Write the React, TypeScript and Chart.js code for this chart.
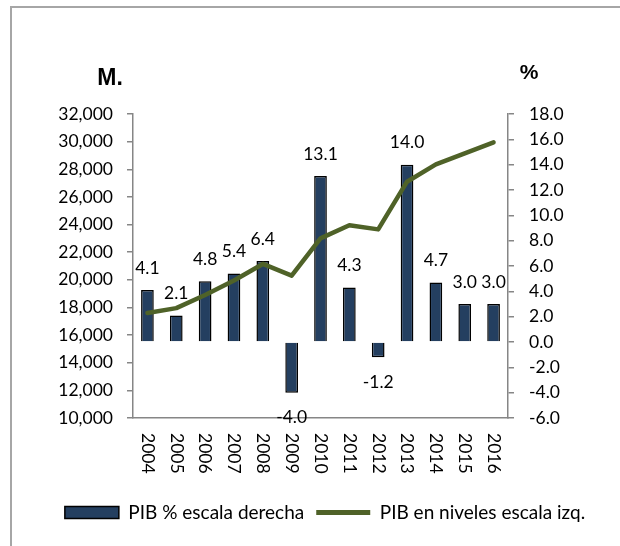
import React, { useEffect, useRef } from 'react';
import { Chart, registerables } from 'chart.js';

Chart.register(...registerables);

const years = ['2004', '2005', '2006', '2007', '2008', '2009', '2010', '2011', '2012', '2013', '2014', '2015', '2016'];
const pibGrowth = [4.1, 2.1, 4.8, 5.4, 6.4, -4.0, 13.1, 4.3, -1.2, 14.0, 4.7, 3.0, 3.0];
const pibLevels = [17600, 17950, 18900, 19950, 21150, 20300, 23000, 23950, 23650, 27100, 28350, 29150, 29950];
const leftAxis = { min: 10000, max: 32000, step: 2000 };
const rightAxis = { min: -6, max: 18, step: 2 };
const seriesNames = ['PIB % escala derecha', 'PIB en niveles escala izq.'];
const leftUnit = 'M.';
const rightUnit = '%';

const FONT = 'Lato, "Open Sans", sans-serif';
const BOLD_FONT = '"Liberation Sans", Arial, sans-serif';
const BAR_COLOR = '#243F60';
const LINE_COLOR = '#4F6228';
const AXIS_COLOR = '#868686';

const decorPlugin = {
  id: 'decor',
  beforeDraw(chart: any) {
    const ctx = chart.ctx;
    ctx.save();
    ctx.strokeStyle = '#A6A6A6';
    ctx.lineWidth = 2;
    ctx.beginPath();
    ctx.moveTo(11, 546);
    ctx.lineTo(11, 7);
    ctx.lineTo(620, 7);
    ctx.stroke();
    ctx.restore();
  },
  afterDatasetsDraw(chart: any) {
    const ctx = chart.ctx;
    const area = chart.chartArea;
    ctx.save();
    ctx.fillStyle = '#000';
    ctx.textAlign = 'center';
    ctx.textBaseline = 'middle';
    // units
    ctx.font = `bold 23px ${BOLD_FONT}`;
    ctx.fillText(leftUnit, area.left - 23, area.top - 35);
    ctx.font = `bold 21px ${BOLD_FONT}`;
    ctx.fillText(rightUnit, area.right + 21, area.top - 41);
    // bar labels
    ctx.font = `17.5px ${FONT}`;
    const meta = chart.getDatasetMeta(0);
    meta.data.forEach((bar: any, i: number) => {
      const v = pibGrowth[i];
      const y = v >= 0 ? bar.y - 22 : bar.y + 25;
      ctx.fillText(v.toFixed(1), bar.x, y);
    });
    // rotated x labels
    const xs = chart.scales.x;
    ctx.textAlign = 'left';
    years.forEach((yr, i) => {
      const x = xs.getPixelForValue(i);
      ctx.save();
      ctx.translate(x, xs.top + 15);
      ctx.rotate(Math.PI / 2);
      ctx.fillText(yr, 0, 0);
      ctx.restore();
    });
    ctx.restore();
  },
};

export default function App() {
  const ref = useRef<HTMLCanvasElement | null>(null);
  useEffect(() => {
    if (!ref.current) return;
    Chart.defaults.font.family = FONT;
    const PAD_L = 30;
    const PAD_R = 0;
    const chart = new Chart(ref.current, {
      type: 'bar',
      data: {
        labels: years,
        datasets: [
          {
            type: 'bar',
            label: seriesNames[0],
            data: pibGrowth,
            yAxisID: 'y1',
            backgroundColor: BAR_COLOR,
            borderColor: '#000',
            borderWidth: 1.5,
            barPercentage: 0.44,
            categoryPercentage: 1,
            order: 2,
          },
          {
            type: 'line',
            label: seriesNames[1],
            data: pibLevels,
            yAxisID: 'y',
            borderColor: LINE_COLOR,
            backgroundColor: LINE_COLOR,
            borderWidth: 4.5,
            pointRadius: 0,
            tension: 0,
            borderCapStyle: 'round',
            borderJoinStyle: 'round',
            order: 1,
          } as any,
        ],
      },
      options: {
        responsive: false,
        animation: false,
        devicePixelRatio: 1,
        layout: { padding: { top: 114, bottom: 14, left: PAD_L, right: PAD_R } },
        plugins: {
          tooltip: { enabled: false },
          legend: {
            position: 'bottom',
            labels: {
              color: '#000',
              font: { size: 19, family: FONT },
              usePointStyle: true,
              pointStyleWidth: 54,
              boxHeight: 12,
              padding: 12,
              generateLabels: () => [
                {
                  text: seriesNames[0],
                  pointStyle: 'rect',
                  fillStyle: BAR_COLOR,
                  strokeStyle: '#000',
                  lineWidth: 1.5,
                  datasetIndex: 0,
                  hidden: false,
                } as any,
                {
                  text: seriesNames[1],
                  pointStyle: 'line',
                  fillStyle: LINE_COLOR,
                  strokeStyle: LINE_COLOR,
                  lineWidth: 5,
                  datasetIndex: 1,
                  hidden: false,
                } as any,
              ],
            },
          },
        },
        scales: {
          x: {
            grid: { display: false },
            border: { display: true, color: AXIS_COLOR, width: 1.5 },
            ticks: { display: false },
            afterFit: (s: any) => {
              s.height = 73;
            },
          },
          y: {
            position: 'left',
            min: leftAxis.min,
            max: leftAxis.max,
            grid: { display: true, drawOnChartArea: false, drawTicks: true, tickLength: 6, color: AXIS_COLOR, lineWidth: 1.5 },
            border: { display: true, color: AXIS_COLOR, width: 1.5 },
            ticks: {
              stepSize: leftAxis.step,
              color: '#000',
              padding: 14,
              font: { size: 17.5, family: FONT },
              callback: (v: any) => Number(v).toLocaleString('en-US'),
            },
            afterFit: (s: any) => {
              s.width = 133 - PAD_L;
            },
          },
          y1: {
            position: 'right',
            min: rightAxis.min,
            max: rightAxis.max,
            grid: { display: true, drawOnChartArea: false, drawTicks: true, tickLength: 6, color: AXIS_COLOR, lineWidth: 1.5 },
            border: { display: true, color: AXIS_COLOR, width: 1.5 },
            ticks: {
              stepSize: rightAxis.step,
              color: '#000',
              padding: 15,
              font: { size: 17.5, family: FONT },
              callback: (v: any) => Number(v).toFixed(1),
            },
            afterFit: (s: any) => {
              s.width = 620 - PAD_R - 508;
            },
          },
        },
      },
      plugins: [decorPlugin],
    });
    return () => chart.destroy();
  }, []);
  return (
    <div style={{ position: 'fixed', left: 0, top: 0, width: 620, height: 546, background: '#fff' }}>
      <canvas ref={ref} width={620} height={546} style={{ display: 'block' }} />
    </div>
  );
}
